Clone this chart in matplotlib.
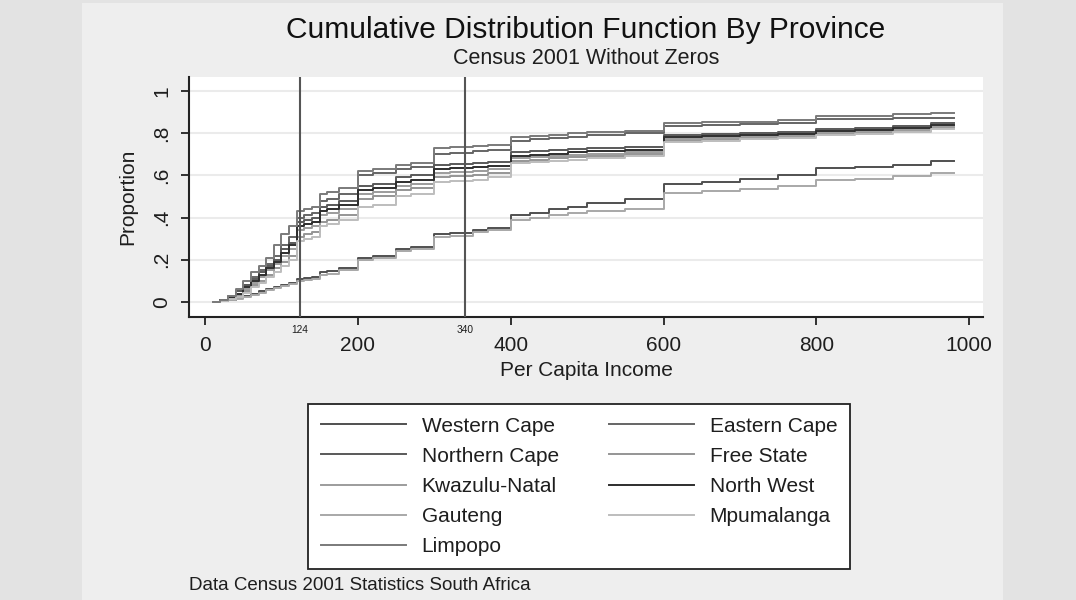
import matplotlib
matplotlib.use("Agg")
import matplotlib.pyplot as plt
from matplotlib.lines import Line2D
from matplotlib.patches import Rectangle

# ---------------- data ----------------
income = [10, 20, 30, 40, 50, 60, 70, 80, 90, 100, 110, 120, 130, 140, 150, 160, 175,
          200, 220, 250, 270, 300, 320, 350, 370, 400, 425, 450, 475, 500, 550,
          600, 650, 700, 750, 800, 850, 900, 950, 980]

western_cape = [0, .004, .01, .02, .03, .04, .05, .06, .07, .08, .09, .11, .115, .12, .14, .145, .16,
                .21, .22, .25, .26, .32, .325, .34, .35, .41, .42, .44, .45, .47, .49,
                .56, .57, .585, .60, .635, .64, .65, .668, .668]
eastern_cape = [0, .01, .025, .05, .08, .12, .15, .18, .22, .27, .31, .40, .41, .42, .48, .49, .51,
                .60, .61, .63, .64, .70, .705, .715, .72, .765, .77, .775, .78, .79, .80,
                .835, .84, .845, .85, .865, .868, .87, .873, .873]
northern_cape = [0, .01, .03, .05, .08, .11, .14, .17, .20, .25, .28, .38, .39, .40, .45, .46, .48,
                 .55, .56, .59, .60, .65, .655, .66, .665, .71, .715, .72, .725, .73, .735,
                 .79, .795, .80, .805, .82, .825, .835, .847, .847]
free_state = [0, .005, .015, .03, .05, .08, .10, .13, .16, .19, .22, .31, .32, .33, .38, .39, .41,
              .49, .50, .53, .54, .59, .595, .60, .61, .67, .675, .68, .685, .69, .70,
              .765, .77, .775, .78, .795, .80, .81, .825, .825]
kwazulu_natal = [0, .006, .018, .035, .06, .09, .12, .15, .18, .22, .25, .34, .35, .36, .41, .42, .44,
                 .51, .52, .55, .56, .61, .615, .62, .63, .68, .685, .69, .695, .70, .71,
                 .77, .775, .78, .785, .80, .805, .815, .831, .831]
north_west = [0, .008, .02, .04, .07, .10, .13, .16, .19, .23, .27, .36, .37, .38, .43, .44, .46,
              .53, .54, .57, .58, .63, .635, .64, .645, .69, .695, .70, .71, .715, .72,
              .78, .785, .79, .795, .81, .815, .825, .839, .839]
gauteng = [0, .003, .008, .016, .025, .035, .045, .055, .065, .075, .085, .10, .105, .11, .13, .135, .15,
           .20, .21, .24, .25, .31, .315, .33, .34, .39, .40, .41, .42, .43, .44,
           .515, .525, .535, .55, .578, .585, .595, .61, .61]
mpumalanga = [0, .004, .012, .025, .045, .07, .09, .12, .14, .17, .20, .29, .30, .31, .36, .37, .39,
              .45, .46, .50, .51, .57, .575, .58, .59, .66, .665, .67, .675, .68, .69,
              .76, .765, .77, .775, .79, .795, .805, .818, .818]
limpopo = [0, .01, .03, .06, .10, .14, .17, .21, .27, .32, .36, .43, .44, .45, .51, .52, .54,
           .62, .63, .65, .66, .73, .735, .74, .745, .78, .785, .79, .80, .805, .81,
           .85, .852, .855, .86, .88, .882, .89, .897, .897]

provinces = ["Western Cape", "Eastern Cape", "Northern Cape", "Free State", "Kwazulu-Natal",
             "North West", "Gauteng", "Mpumalanga", "Limpopo"]
series = [western_cape, eastern_cape, northern_cape, free_state, kwazulu_natal,
          north_west, gauteng, mpumalanga, limpopo]
colors = ["#505050", "#656565", "#595959", "#959595", "#9c9c9c",
          "#2e2e2e", "#a8a8a8", "#bdbdbd", "#7a7a7a"]

ref_lines = [124, 340]
xticks = [0, 200, 400, 600, 800, 1000]
yticks = [0, 0.2, 0.4, 0.6, 0.8, 1.0]
ytick_labels = ["0", ".2", ".4", ".6", ".8", "1"]

plt.rcParams["font.family"] = ["Liberation Sans", "DejaVu Sans"]
TXT = "#1e1e1e"

# ---------------- figure ----------------
W, H = 1076, 600
fig = plt.figure(figsize=(W / 100, H / 100), dpi=100)
fig.patch.set_facecolor("#e3e3e3")
fig.patches.append(Rectangle((82 / W, 0), (1003 - 82) / W, 1 - 3 / H,
                             transform=fig.transFigure, facecolor="#eeeeee",
                             edgecolor="none", zorder=-5))

ax = fig.add_axes([189 / W, 1 - 317 / H, (983 - 189) / W, (317 - 77) / H])
ax.set_zorder(2)
ax.set_facecolor("white")
ax.set_xlim(-21, 1018)
ax.set_ylim(-0.071, 1.066)

for y in yticks:
    ax.axhline(y, color="#ebebeb", lw=1.5, zorder=1)

for s, c in zip(series, colors):
    ax.step(income, s, where="post", color=c, lw=1.4, zorder=3)

for v in ref_lines:
    ax.axvline(v, color="#555555", lw=1.5, zorder=4)
    ax.annotate(str(v), xy=(v, 0), xycoords=("data", "axes fraction"),
                xytext=(0, -13 / 1.389), textcoords="offset points",
                ha="center", va="center", fontsize=7.3, color=TXT, annotation_clip=False)

for side in ["top", "right"]:
    ax.spines[side].set_visible(False)
for side in ["left", "bottom"]:
    ax.spines[side].set_color("#222222")
    ax.spines[side].set_linewidth(1.5)

ax.set_xticks(xticks)
ax.set_xticklabels([str(t) for t in xticks], fontsize=15, color=TXT)
ax.set_yticks(yticks)
ax.set_yticklabels(ytick_labels, fontsize=15, color=TXT, rotation=90, va="center")
ax.tick_params(axis="both", direction="out", length=6, width=1.3, color="#222222")
ax.tick_params(axis="x", pad=8)
ax.tick_params(axis="y", pad=7)

ax.set_xlabel("Per Capita Income", fontsize=15, color=TXT, va="center")
ax.xaxis.set_label_coords(0.5, -(371 - 317) / (317 - 77))
ax.set_ylabel("Proportion", fontsize=15, color=TXT, va="center")
ax.yaxis.set_label_coords(-(189 - 128) / (983 - 189), 0.5)

cx = (189 + 983) / 2 / W
fig.text(cx, 1 - 30 / H, "Cumulative Distribution Function By Province", ha="center",
         va="center", fontsize=21.5, color="#111111")
fig.text(cx, 1 - 58 / H, "Census 2001 Without Zeros", ha="center", va="center",
         fontsize=15.5, color=TXT)
fig.text(189 / W, 1 - 586 / H, "Data Census 2001 Statistics South Africa",
         ha="left", va="center", fontsize=13.5, color=TXT)

order = [0, 2, 4, 6, 8, 1, 3, 5, 7]
handles = [Line2D([], [], color=colors[i], lw=1.4) for i in order]
labels = [provinces[i] for i in order]
leg = fig.legend(handles, labels, ncol=2, loc="upper left",
                 bbox_to_anchor=(308 / W, 1 - 404 / H), fontsize=15,
                 frameon=True, fancybox=False, edgecolor="#222222", facecolor="white",
                 framealpha=1, handlelength=4.1, handletextpad=0.75, columnspacing=2.4,
                 labelspacing=0.54, borderpad=0.6, borderaxespad=0)
leg.get_frame().set_linewidth(1.3)
for t in leg.get_texts():
    t.set_color(TXT)

fig.savefig("out.png", dpi=100, facecolor=fig.get_facecolor())
